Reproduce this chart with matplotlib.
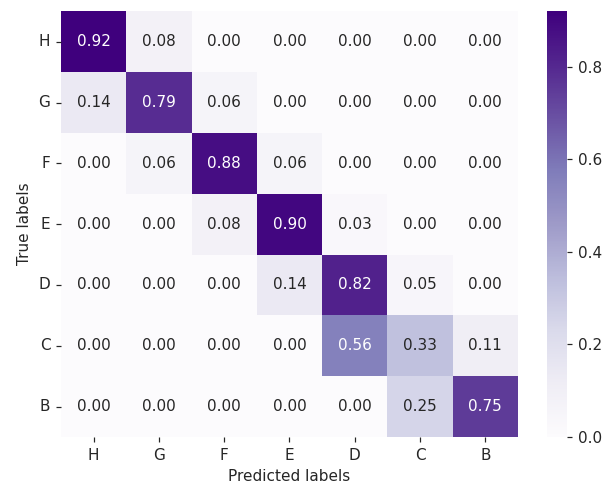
import matplotlib
matplotlib.use("Agg")
import matplotlib.pyplot as plt
import seaborn as sns
import numpy as np

labels = ["H", "G", "F", "E", "D", "C", "B"]
row_H = [0.92, 0.08, 0.00, 0.00, 0.00, 0.00, 0.00]
row_G = [0.14, 0.79, 0.06, 0.00, 0.00, 0.00, 0.00]
row_F = [0.00, 0.06, 0.88, 0.06, 0.00, 0.00, 0.00]
row_E = [0.00, 0.00, 0.08, 0.90, 0.03, 0.00, 0.00]
row_D = [0.00, 0.00, 0.00, 0.14, 0.82, 0.05, 0.00]
row_C = [0.00, 0.00, 0.00, 0.00, 0.56, 0.33, 0.11]
row_B = [0.00, 0.00, 0.00, 0.00, 0.00, 0.25, 0.75]

cm = np.array([row_H, row_G, row_F, row_E, row_D, row_C, row_B])

grey = "#262626"
plt.rcParams["font.family"] = "DejaVu Sans"
plt.rcParams["text.color"] = grey
plt.rcParams["axes.labelcolor"] = grey
plt.rcParams["xtick.color"] = grey
plt.rcParams["ytick.color"] = grey

dpi = 110
fig = plt.figure(figsize=(605 / dpi, 486 / dpi), dpi=dpi)
ax = fig.add_axes([0.101, 0.1008, 0.755, 0.876])
cax = fig.add_axes([0.904, 0.1008, 0.033, 0.876])

sns.heatmap(cm, annot=True, fmt=".2f", cmap="Purples", ax=ax, cbar_ax=cax,
            xticklabels=labels, yticklabels=labels)
ax.set_xlabel("Predicted labels")
ax.set_ylabel("True labels")
ax.tick_params(axis="y", rotation=0)
ax.tick_params(axis="x", rotation=0)

plt.savefig("out.png", dpi=dpi)
plt.close("all")
